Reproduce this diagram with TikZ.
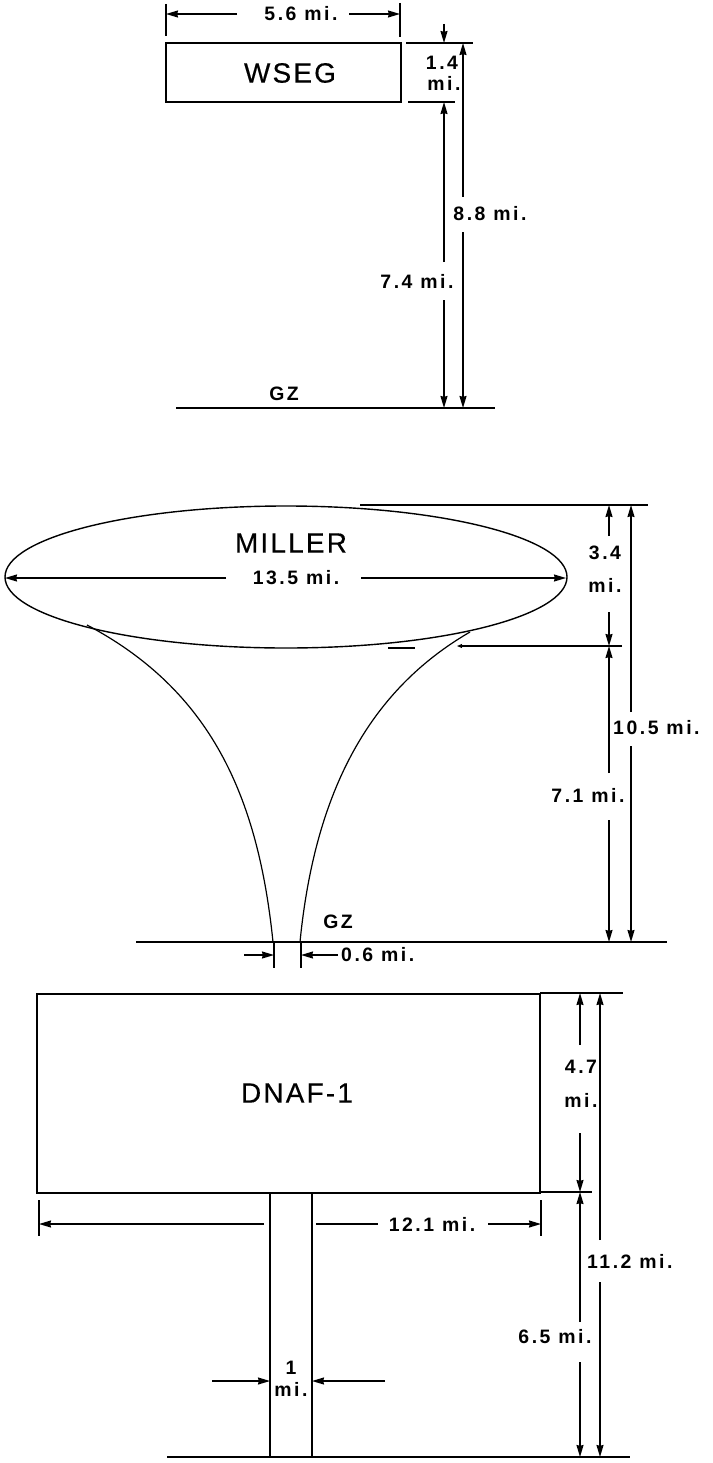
\documentclass[tikz,border=0pt]{standalone}
\usepackage{fontspec}
\setmainfont{Liberation Sans}
\newfontfamily\dimfont[LetterSpace=13,UprightFont={* Bold}]{Liberation Sans}
\newfontfamily\namefont[LetterSpace=8,FakeBold=0.4]{Liberation Sans}
\usetikzlibrary{arrows.meta}
\tikzset{
  ln/.style={line width=1.4bp, line cap=butt},
  thin ln/.style={line width=1.2bp},
  dimarrow/.style={ln, -{Stealth[length=12bp,width=7bp,inset=0.8bp]}},
  smallarrow/.style={ln, -{Stealth[length=5bp,width=4bp,inset=0.5bp]}},
  dimlabel/.style={font=\dimfont\fontsize{19.5}{22}\selectfont, inner sep=0pt, align=center},
  namelabel/.style={font=\namefont\fontsize{28}{32}\selectfont, inner sep=0pt}
}
\begin{document}
\begin{tikzpicture}[x=1bp,y=-1bp]
\useasboundingbox (0,0) rectangle (713,1463);

% ================= WSEG =================
\draw[ln] (166,43) rectangle (401,102);
\node[namelabel] (wseg) at (290,73) {WSEG};
% 5.6 mi.
\draw[ln] (166,4) -- (166,36);
\draw[ln] (400,3) -- (400,37);
\node[dimlabel] (w56) at (301,14) {5.6 mi.};
\coordinate (w56l) at (166,14);
\coordinate (w56r) at (400,14);
\draw[dimarrow] (237,14) -- (w56l);
\draw[dimarrow] (349,14) -- (w56r);
% extension lines
\draw[ln] (406,43) -- (473,43);
\draw[ln] (408,102) -- (455,102);
% 1.4 mi.
\coordinate (w14t) at (444,43);
\draw[dimarrow] (444,24) -- (w14t);
\node[dimlabel] (w14) at (442,63) {1.4};
\node[dimlabel] (w14mi) at (444,83) {mi.};
% 7.4 mi.
\coordinate (w74t) at (444,102);
\coordinate (w74b) at (444,408);
\draw[dimarrow] (444,262) -- (w74t);
\draw[dimarrow] (444,300) -- (w74b);
\node[dimlabel] (w74) at (417,281) {7.4 mi.};
% 8.8 mi.
\coordinate (w88t) at (463,43);
\coordinate (w88b) at (463,408);
\draw[dimarrow] (463,197) -- (w88t);
\draw[dimarrow] (463,232) -- (w88b);
\node[dimlabel] (w88) at (490,214) {8.8 mi.};
% ground
\draw[ln] (176,408) -- (495,408);
\node[dimlabel] (wgz) at (284,394) {GZ};

% ================= MILLER =================
\draw[ln] (360,505) -- (648,505);
\draw[ln] (286,577) ellipse [x radius=281, y radius=71];
\node[namelabel] (miller) at (291,543) {MILLER};
% 13.5 mi.
\node[dimlabel] (m135) at (296,578) {13.5 mi.};
\coordinate (m135l) at (5,578);
\coordinate (m135r) at (566,578);
\draw[dimarrow] (226,578) -- (m135l);
\draw[dimarrow] (361,578) -- (m135r);
% stem curves
\draw[thin ln] (87,625) .. controls (210,690) and (258,795) .. (273,942);
\draw[thin ln] (470,632) .. controls (370,690) and (315,790) .. (300,942);
% line at bottom of cloud
\draw[thin ln] (388,648) -- (415,648);
\coordinate (mbl) at (457,646);
\draw[smallarrow] (622,646) -- (mbl);
% 3.4 mi.
\coordinate (m34t) at (609,505);
\coordinate (m34b) at (609,646);
\draw[dimarrow] (609,536) -- (m34t);
\draw[dimarrow] (609,612) -- (m34b);
\node[dimlabel] (m34) at (605,553) {3.4};
\node[dimlabel] (m34mi) at (605,585) {mi.};
% 7.1 mi.
\coordinate (m71t) at (609,646);
\coordinate (m71b) at (609,942);
\draw[dimarrow] (609,773) -- (m71t);
\draw[dimarrow] (609,820) -- (m71b);
\node[dimlabel] (m71) at (588,795) {7.1 mi.};
% 10.5 mi.
\coordinate (m105t) at (631,505);
\coordinate (m105b) at (631,942);
\draw[dimarrow] (631,712) -- (m105t);
\draw[dimarrow] (631,746) -- (m105b);
\node[dimlabel, anchor=west] (m105) at (613,728) {10.5 mi.};
% ground
\draw[ln] (136,942) -- (667,942);
\node[dimlabel] (mgz) at (338,922) {GZ};
% 0.6 mi.
\draw[ln] (274,942) -- (274,968);
\draw[ln] (301,942) -- (301,968);
\coordinate (m06l) at (274,955);
\coordinate (m06r) at (301,955);
\draw[dimarrow] (244,955) -- (m06l);
\draw[dimarrow] (338,955) -- (m06r);
\node[dimlabel, anchor=west] (m06) at (341,955) {0.6 mi.};

% ================= DNAF-1 =================
\draw[ln] (37,994) rectangle (540,1193);
\node[namelabel] (dnaf) at (297,1093) {DNAF-1};
\draw[ln] (540,993) -- (623,993);
\draw[ln] (540,1192) -- (592,1192);
% 4.7 mi.
\coordinate (d47t) at (580,993);
\coordinate (d47b) at (580,1192);
\draw[dimarrow] (580,1045) -- (d47t);
\draw[dimarrow] (580,1133) -- (d47b);
\node[dimlabel] (d47) at (581,1067) {4.7};
\node[dimlabel] (d47mi) at (581,1100) {mi.};
% 6.5 mi.
\coordinate (d65t) at (580,1192);
\coordinate (d65b) at (580,1457);
\draw[dimarrow] (580,1322) -- (d65t);
\draw[dimarrow] (580,1362) -- (d65b);
\node[dimlabel] (d65) at (555,1337) {6.5 mi.};
% 11.2 mi.
\coordinate (d112t) at (600,993);
\coordinate (d112b) at (600,1457);
\draw[dimarrow] (600,1240) -- (d112t);
\draw[dimarrow] (600,1282) -- (d112b);
\node[dimlabel, anchor=west] (d112) at (587,1261) {11.2 mi.};
% 12.1 mi.
\draw[ln] (39,1200) -- (39,1236);
\draw[ln] (541,1200) -- (541,1236);
\coordinate (d121l) at (39,1224);
\coordinate (d121r) at (541,1224);
\draw[dimarrow] (264,1224) -- (d121l);
\draw[ln] (316,1224) -- (378,1224);
\node[dimlabel] (d121) at (432,1224) {12.1 mi.};
\draw[dimarrow] (488,1224) -- (d121r);
% stem
\draw[ln] (270,1193) -- (270,1457);
\draw[ln] (312,1193) -- (312,1457);
% ground
\draw[ln] (167,1457) -- (630,1457);
% 1 mi.
\coordinate (d1l) at (270,1381);
\coordinate (d1r) at (312,1381);
\draw[dimarrow] (212,1381) -- (d1l);
\draw[dimarrow] (385,1381) -- (d1r);
\node[dimlabel] (d1) at (291,1368) {1};
\node[dimlabel] (d1mi) at (291,1389) {mi.};
\end{tikzpicture}
\end{document}
